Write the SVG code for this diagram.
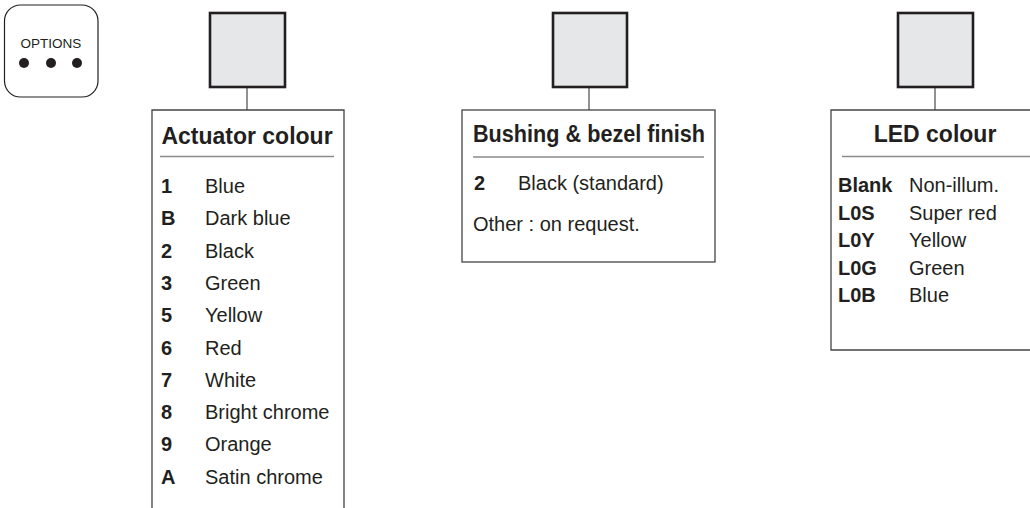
<svg xmlns="http://www.w3.org/2000/svg" width="1030" height="508" viewBox="0 0 1030 508">
<style>
.frame{fill:#fff;stroke:#444;stroke-width:1.3}
.sq{fill:#e6e7e8;stroke:#231f20;stroke-width:2.6}
.conn{stroke:#6d6e70;stroke-width:1.5;fill:none}
.sep{stroke:#8a8a8a;stroke-width:1.5}
.title{font-family:"Liberation Sans",Arial,sans-serif;font-weight:bold;font-size:23px;fill:#231f20}
.code{font-family:"Liberation Sans",Arial,sans-serif;font-weight:bold;font-size:20px;fill:#231f20}
.lbl{font-family:"Liberation Sans",Arial,sans-serif;font-size:20px;fill:#231f20}
.opt{font-family:"Liberation Sans",Arial,sans-serif;font-size:13.5px;fill:#231f20}
</style>
<rect width="1030" height="508" fill="#fff"/>
<g id="options">
<rect x="4.5" y="5" width="93.5" height="92" rx="16" ry="16" fill="#fff" stroke="#231f20" stroke-width="1.2"/>
<text class="opt" x="51" y="48" text-anchor="middle">OPTIONS</text>
<circle cx="24" cy="63" r="5" fill="#231f20"/>
<circle cx="51" cy="63" r="5" fill="#231f20"/>
<circle cx="77" cy="63" r="5" fill="#231f20"/>
</g>
<g id="connectors">
<line class="conn" x1="247" y1="87" x2="247" y2="110"/>
<line class="conn" x1="589" y1="87" x2="589" y2="110"/>
<line class="conn" x1="935" y1="87" x2="935" y2="110"/>
</g>
<g id="actuator">
<rect class="sq" x="210" y="13" width="75" height="74"/>
<path class="frame" d="M152 508 V110 H344 V508" fill="none"/>
<text class="title" x="247" y="144" text-anchor="middle">Actuator colour</text>
<line class="sep" x1="160" y1="156.5" x2="334" y2="156.5"/>
<g>
<text class="code" x="161" y="193">1</text><text class="lbl" x="205" y="193">Blue</text>
<text class="code" x="161" y="225.3">B</text><text class="lbl" x="205" y="225.3">Dark blue</text>
<text class="code" x="161" y="257.6">2</text><text class="lbl" x="205" y="257.6">Black</text>
<text class="code" x="161" y="289.9">3</text><text class="lbl" x="205" y="289.9">Green</text>
<text class="code" x="161" y="322.2">5</text><text class="lbl" x="205" y="322.2">Yellow</text>
<text class="code" x="161" y="354.5">6</text><text class="lbl" x="205" y="354.5">Red</text>
<text class="code" x="161" y="386.8">7</text><text class="lbl" x="205" y="386.8">White</text>
<text class="code" x="161" y="419.1">8</text><text class="lbl" x="205" y="419.1">Bright chrome</text>
<text class="code" x="161" y="451.4">9</text><text class="lbl" x="205" y="451.4">Orange</text>
<text class="code" x="161" y="483.7">A</text><text class="lbl" x="205" y="483.7">Satin chrome</text>
</g>
</g>
<g id="bushing">
<rect class="sq" x="553" y="13" width="74" height="74"/>
<rect class="frame" x="462" y="110" width="253" height="152"/>
<text class="title" x="473" y="142" textLength="232" lengthAdjust="spacingAndGlyphs">Bushing &amp; bezel finish</text>
<line class="sep" x1="473" y1="157" x2="704" y2="157"/>
<text class="code" x="474" y="190">2</text><text class="lbl" x="518" y="190">Black (standard)</text>
<text class="lbl" x="473" y="231">Other : on request.</text>
</g>
<g id="led">
<rect class="sq" x="898" y="13" width="75" height="74"/>
<path class="frame" d="M1031 350 H831 V110 H1031"/>
<text class="title" x="935" y="142" text-anchor="middle">LED colour</text>
<line class="sep" x1="842" y1="156.5" x2="1030" y2="156.5"/>
<text class="code" x="838" y="192">Blank</text><text class="lbl" x="909" y="192">Non-illum.</text>
<text class="code" x="838" y="219.5">L0S</text><text class="lbl" x="909" y="219.5">Super red</text>
<text class="code" x="838" y="247">L0Y</text><text class="lbl" x="909" y="247">Yellow</text>
<text class="code" x="838" y="274.5">L0G</text><text class="lbl" x="909" y="274.5">Green</text>
<text class="code" x="838" y="302">L0B</text><text class="lbl" x="909" y="302">Blue</text>
</g>
</svg>
